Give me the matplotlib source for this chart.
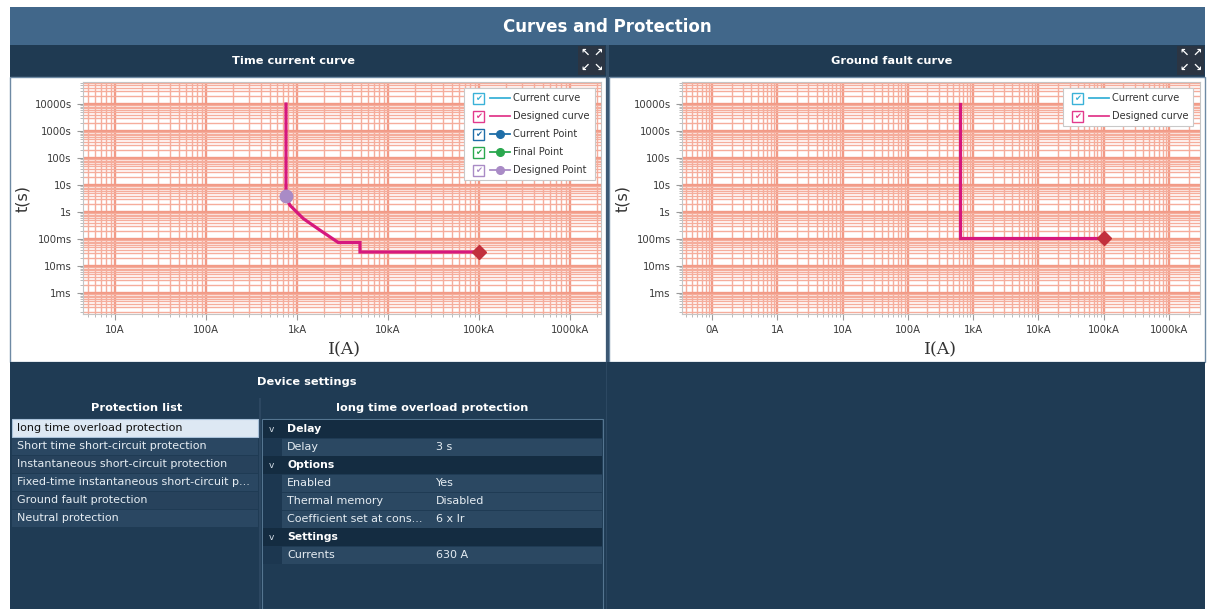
import numpy as np
import matplotlib
matplotlib.use("Agg")
import matplotlib.pyplot as plt
from matplotlib.patches import Rectangle
from matplotlib.lines import Line2D
from matplotlib.ticker import LogLocator, FixedLocator, NullFormatter, FixedFormatter

# ---------------- data ----------------
tcc_current = [757, 757, 790, 837, 1173, 1792, 2844, 4920, 4920, 100000]
tcc_time = [10000, 4.03, 2.6, 1.77, 0.57, 0.211, 0.074, 0.074, 0.033, 0.033]
tcc_designed_point = [757, 4.03]
tcc_end_point = [100000, 0.033]

gf_current = [625, 625, 100000]
gf_time = [10000, 0.11, 0.11]
gf_end_point = [100000, 0.11]

tcc_xticks = [10, 100, 1e3, 1e4, 1e5, 1e6]
tcc_xlabels = ["10A", "100A", "1kA", "10kA", "100kA", "1000kA"]
gf_xticks = [0.1, 1, 10, 100, 1e3, 1e4, 1e5, 1e6]
gf_xlabels = ["0A", "1A", "10A", "100A", "1kA", "10kA", "100kA", "1000kA"]
yticks = [1e-3, 1e-2, 1e-1, 1, 10, 100, 1e3, 1e4]
ylabels = ["1ms", "10ms", "100ms", "1s", "10s", "100s", "1000s", "10000s"]

tcc_legend = ["Current curve", "Designed curve", "Current Point", "Final Point", "Designed Point"]
gf_legend = ["Current curve", "Designed curve"]

protection_list = ["long time overload protection",
                   "Short time short-circuit protection",
                   "Instantaneous short-circuit protection",
                   "Fixed-time instantaneous short-circuit p...",
                   "Ground fault protection",
                   "Neutral protection"]
setting_names = ["Delay", "Delay", "Options", "Enabled", "Thermal memory",
                 "Coefficient set at cons...", "Settings", "Currents"]
setting_values = ["", "3 s", "", "Yes", "Disabled", "6 x Ir", "", "630 A"]
setting_is_category = [True, False, True, False, False, False, True, False]

# ---------------- style ----------------
W, H = 1213, 609
TITLE_BG = "#41678a"
HEAD_BG = "#1f3a52"
DARK_BG = "#1f3b54"
GRID_MAJ = "#f29a86"
GRID_MIN = "#f5ad9c"
CURVE = "#d6187e"
FONT = "DejaVu Sans"

fig = plt.figure(figsize=(W / 100, H / 100), dpi=100)
fig.patch.set_facecolor("white")

bg = fig.add_axes([0, 0, 1, 1])
bg.set_xlim(0, W)
bg.set_ylim(H, 0)
bg.axis("off")


def rect(ax, x0, y0, x1, y1, fc, ec="none", lw=0, z=1):
    ax.add_patch(Rectangle((x0, y0), x1 - x0, y1 - y0, facecolor=fc,
                           edgecolor=ec, linewidth=lw, zorder=z))


# title bar
rect(bg, 10, 7, 1205, 45, TITLE_BG)
bg.text(607, 27, "Curves and Protection", color="white", fontsize=12,
        fontweight="bold", ha="center", va="center", family=FONT)
# sub headers
rect(bg, 10, 45, 606, 77, HEAD_BG)
rect(bg, 609, 45, 1205, 77, HEAD_BG)
rect(bg, 606, 45, 609, 77, "#34506a")
bg.text(293, 61, "Time current curve", color="white", fontsize=8.2,
        fontweight="bold", ha="center", va="center", family=FONT)
bg.text(892, 61, "Ground fault curve", color="white", fontsize=8.2,
        fontweight="bold", ha="center", va="center", family=FONT)
# expand icons
for x0 in (578, 1177):
    rect(bg, x0, 46, x0 + 27, 75, "#2b3543", z=2)
    for dx, dy, ch in ((7, 53, "↖"), (20, 53, "↗"), (7, 68, "↙"), (20, 68, "↘")):
        bg.text(x0 + dx, dy, ch, color="white", fontsize=8, ha="center",
                va="center", family=FONT, zorder=3, fontweight="bold")
# white plot panels
rect(bg, 10, 77, 606, 362, "white", ec="#6e8aa4", lw=1.0)
rect(bg, 609, 77, 1205, 362, "white", ec="#6e8aa4", lw=1.0)
rect(bg, 606, 77, 609, 362, "#3c5873")
# bottom dark area
rect(bg, 10, 362, 1205, 609, DARK_BG)
rect(bg, 606, 362, 607, 609, "#2c4862", z=2)
bg.text(307, 382, "Device settings", color="white", fontsize=8.2,
        fontweight="bold", ha="center", va="center", family=FONT)
rect(bg, 259, 398, 261, 609, "#2c4761", z=2)
bg.text(137, 408, "Protection list", color="white", fontsize=8.2,
        fontweight="bold", ha="center", va="center", family=FONT)
bg.text(432, 408, "long time overload protection", color="white", fontsize=8.2,
        fontweight="bold", ha="center", va="center", family=FONT)

# protection list
row_h = 18
for i, name in enumerate(protection_list):
    y0 = 419 + i * row_h
    if i == 0:
        rect(bg, 12, y0, 258, y0 + row_h, "#dde8f3", ec="#a9c2da", lw=0.8, z=2)
        col = "#111111"
    else:
        rect(bg, 12, y0 + 0.5, 258, y0 + row_h - 0.5,
             "#2a4762" if i % 2 else "#27425c", z=2)
        col = "#e6edf3"
    bg.text(17, y0 + row_h / 2, name, color=col, fontsize=8,
            ha="left", va="center", family=FONT, zorder=3)

# property grid
rect(bg, 262, 419, 603, 609, "#1f3b54", ec="#557590", lw=0.8, z=2)
for i, (nm, val, cat) in enumerate(zip(setting_names, setting_values, setting_is_category)):
    y0 = 420 + i * row_h
    if cat:
        rect(bg, 263, y0, 602, y0 + row_h, "#142c41", z=3)
        bg.text(271, y0 + row_h / 2, "v", color="#d5dee7", fontsize=6.5,
                ha="center", va="center", family=FONT, zorder=4)
        bg.text(287, y0 + row_h / 2, nm, color="white", fontsize=7.8,
                fontweight="bold", ha="left", va="center", family=FONT, zorder=4)
    else:
        rect(bg, 263, y0, 282, y0 + row_h, "#1c3750", z=3)
        rect(bg, 282, y0 + 0.5, 602, y0 + row_h - 0.5, "#2b4862", z=3)
        bg.text(287, y0 + row_h / 2, nm, color="#e6edf3", fontsize=8,
                ha="left", va="center", family=FONT, zorder=4)
        bg.text(436, y0 + row_h / 2, val, color="#e6edf3", fontsize=8,
                ha="left", va="center", family=FONT, zorder=4)


# ---------------- plot axes ----------------
def add_px_axes(l, t, r, b):
    return fig.add_axes([l / W, 1 - b / H, (r - l) / W, (b - t) / H])


def style_axes(ax, xlim, xticks, xlabels):
    ax.set_xscale("log")
    ax.set_yscale("log")
    ax.set_xlim(*xlim)
    ax.set_ylim(1.67e-4, 6.53e4)
    ax.xaxis.set_major_locator(FixedLocator(xticks))
    ax.xaxis.set_major_formatter(FixedFormatter(xlabels))
    ax.yaxis.set_major_locator(FixedLocator(yticks))
    ax.yaxis.set_major_formatter(FixedFormatter(ylabels))
    ax.xaxis.set_minor_locator(LogLocator(base=10, subs=np.arange(2, 10), numticks=100))
    ax.yaxis.set_minor_locator(LogLocator(base=10, subs=np.arange(2, 10), numticks=100))
    ax.xaxis.set_minor_formatter(NullFormatter())
    ax.yaxis.set_minor_formatter(NullFormatter())
    ax.grid(True, which="major", color=GRID_MAJ, linewidth=1.7, zorder=0)
    ax.grid(True, which="minor", color=GRID_MIN, linewidth=1.0, zorder=0)
    ax.set_axisbelow(True)
    ax.tick_params(which="major", length=4, width=0.8, color="#9a9a9a",
                   labelsize=7.3, labelcolor="#3a3a3a", pad=4)
    ax.tick_params(which="minor", length=2, width=0.6, color="#b0b0b0")
    for s in ax.spines.values():
        s.set_color("#c4c4c4")
        s.set_linewidth(0.8)
    ax.set_facecolor("white")


ax1 = add_px_axes(83, 82, 601, 314)
style_axes(ax1, (4.45, 2.19e6), tcc_xticks, tcc_xlabels)
ax1.plot(tcc_current, tcc_time, color=CURVE, linewidth=2.3, zorder=3,
         solid_joinstyle="miter")
ax1.plot([tcc_designed_point[0]], [tcc_designed_point[1]], "o", color="#a98bc6",
         markersize=9, zorder=4)
ax1.plot([tcc_end_point[0]], [tcc_end_point[1]], "D", color="#c2303c",
         markersize=7.5, zorder=4)

ax2 = add_px_axes(682, 82, 1200, 314)
style_axes(ax2, (0.0348, 2.99e6), gf_xticks, gf_xlabels)
ax2.plot(gf_current, gf_time, color=CURVE, linewidth=2.3, zorder=3,
         solid_joinstyle="miter")
ax2.plot([gf_end_point[0]], [gf_end_point[1]], "D", color="#c2303c",
         markersize=7.5, zorder=4)

# axis labels
bg.text(23, 198, "t(s)", color="#333333", fontsize=11.5, rotation=90,
        ha="center", va="center", family=FONT)
bg.text(623, 198, "t(s)", color="#333333", fontsize=11.5, rotation=90,
        ha="center", va="center", family=FONT)
bg.text(344, 350, "I(A)", color="#333333", fontsize=12.5, ha="center",
        va="center", family="DejaVu Serif")
bg.text(940, 350, "I(A)", color="#333333", fontsize=12.5, ha="center",
        va="center", family="DejaVu Serif")

# ---------------- legends (overlay) ----------------
ov = fig.add_axes([0, 0, 1, 1], zorder=10)
ov.set_xlim(0, W)
ov.set_ylim(H, 0)
ov.axis("off")
ov.patch.set_alpha(0)

leg_colors = ["#3ab2d8", "#e23a8c", "#1f6ea8", "#2aa84e", "#a98bc6"]
leg_marker = [False, False, True, True, True]


def draw_legend(x0, y0, x1, y1, labels, row0):
    rect(ov, x0, y0, x1, y1, "white", ec="#c9c9c9", lw=0.8, z=1)
    for i, lab in enumerate(labels):
        yc = row0 + i * 18
        c = leg_colors[i]
        cb = x0 + 9
        rect(ov, cb, yc - 5.5, cb + 11, yc + 5.5, "white", ec=c, lw=1.0, z=2)
        ov.text(cb + 5.5, yc + 0.5, "✔", color=c, fontsize=6, ha="center",
                va="center", family=FONT, zorder=3)
        ov.add_line(Line2D([cb + 17, cb + 37], [yc, yc], color=c, lw=1.3, zorder=3))
        if leg_marker[i]:
            ov.plot([cb + 27], [yc], "o", color=c, markersize=5.5, zorder=4)
        ov.text(cb + 40, yc, lab, color="#333333", fontsize=7, ha="left",
                va="center", family=FONT, zorder=3)


draw_legend(464, 88, 595, 180, tcc_legend, 98)
draw_legend(1063, 88, 1193, 126, gf_legend, 98)

fig.savefig("out.png", dpi=100)
